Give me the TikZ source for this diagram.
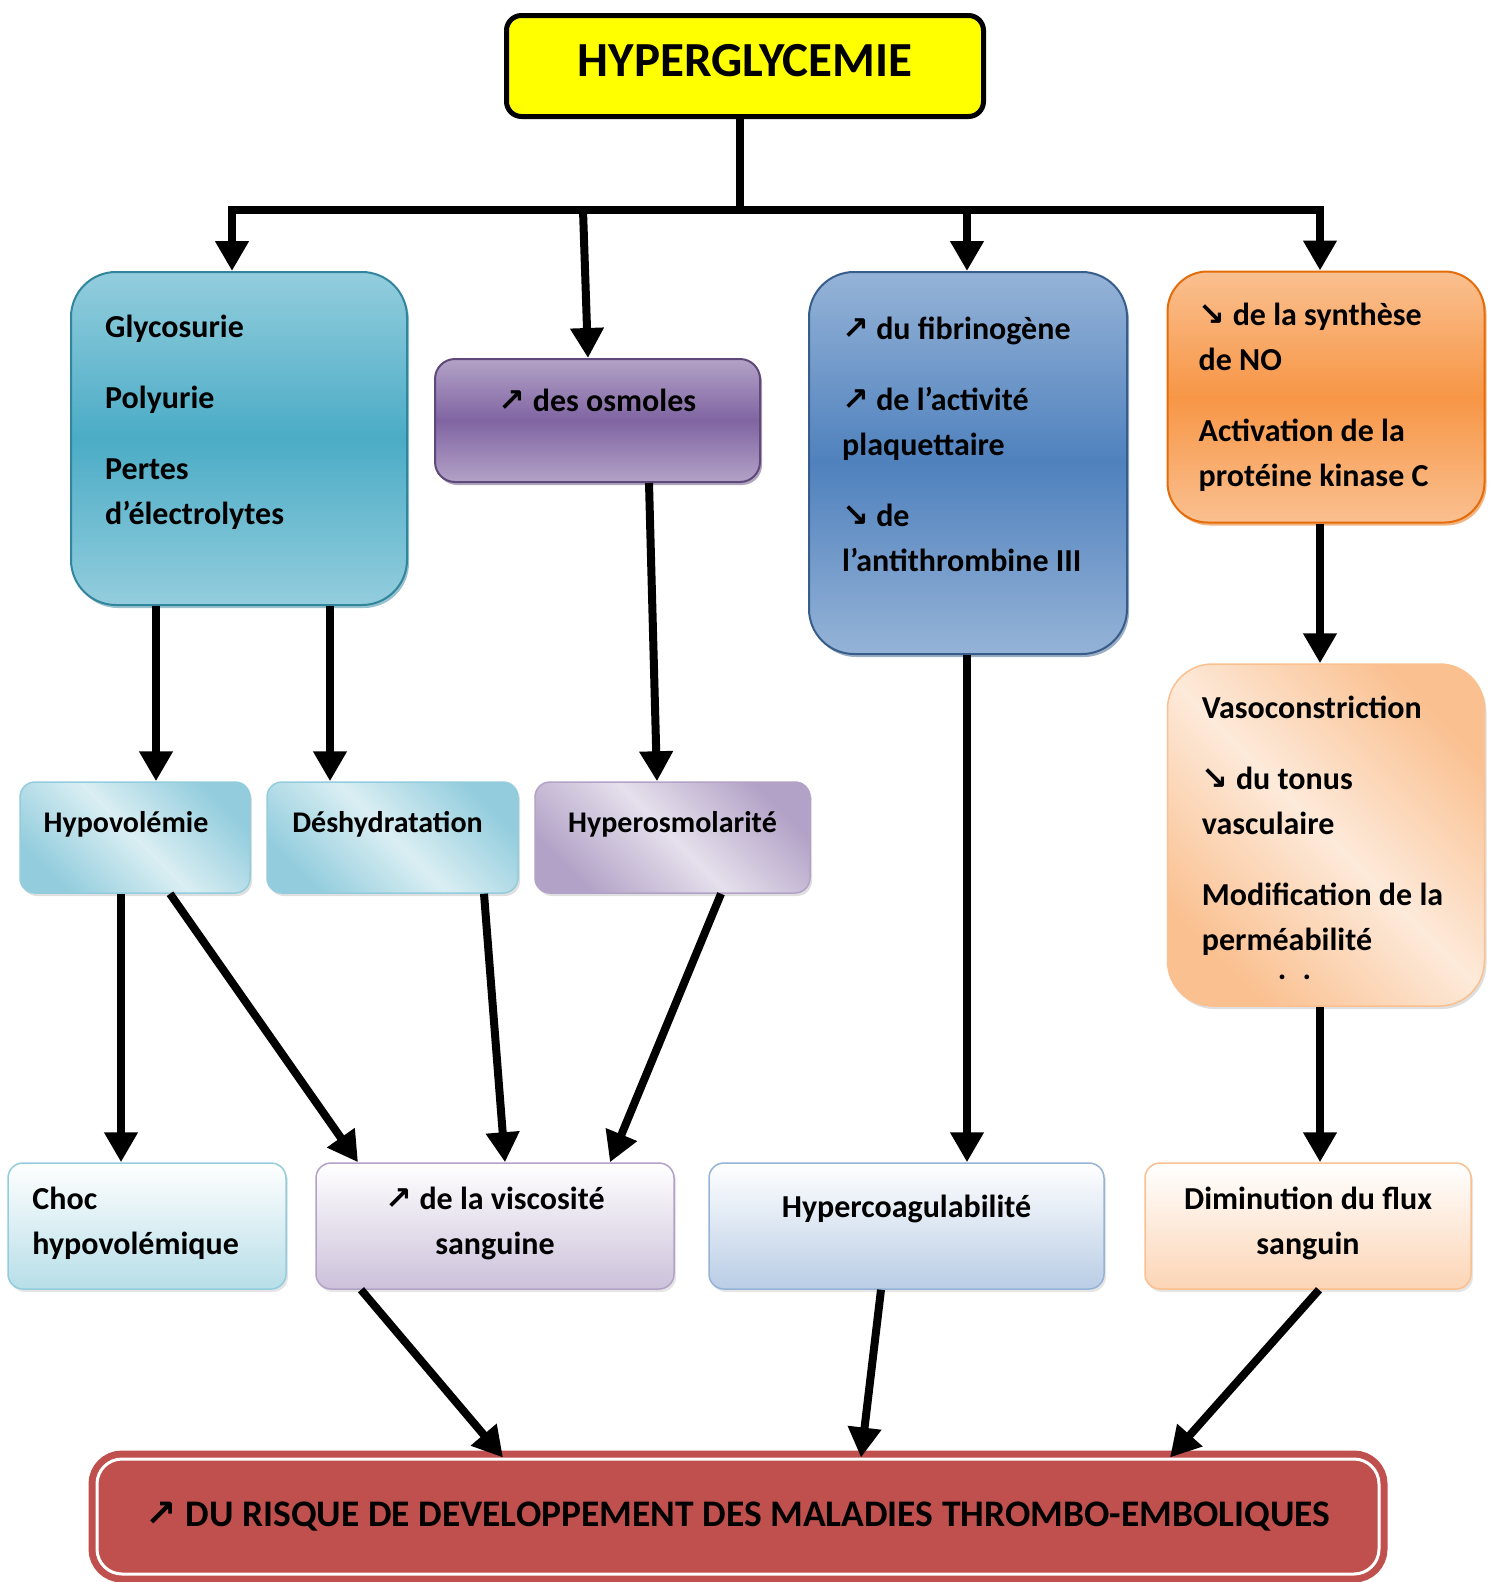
\documentclass[tikz,border=0pt]{standalone}
\usepackage{fontspec}
\setmainfont{Carlito}
\newfontfamily\flechefont{DejaVu Sans}
\usetikzlibrary{arrows.meta,shadows}
\definecolor{jaune}{HTML}{FFFF00}
\definecolor{turq}{HTML}{4BACC6}
\definecolor{turqL}{HTML}{93CDDD}
\definecolor{turqM}{HTML}{B7DEE8}
\definecolor{turqXL}{HTML}{DAEEF3}
\definecolor{turqD}{HTML}{31859C}
\definecolor{mauve}{HTML}{8064A2}
\definecolor{mauveL}{HTML}{B3A2C7}
\definecolor{mauveM}{HTML}{CCC1DA}
\definecolor{mauveXL}{HTML}{E5E0EC}
\definecolor{mauveD}{HTML}{5F497A}
\definecolor{bleu}{HTML}{4F81BD}
\definecolor{bleuL}{HTML}{95B3D7}
\definecolor{bleuM}{HTML}{B9CDE5}
\definecolor{bleuXL}{HTML}{DCE6F2}
\definecolor{bleuD}{HTML}{385D8A}
\definecolor{ora}{HTML}{F79646}
\definecolor{oraL}{HTML}{FAC090}
\definecolor{oraM}{HTML}{FCD5B5}
\definecolor{oraXL}{HTML}{FDEADA}
\definecolor{oraD}{HTML}{E46C0A}
\definecolor{rouge}{HTML}{C0504D}
\newcommand{\hausse}{{\flechefont ↗}}
\newcommand{\baisse}{{\flechefont ↘}}
\tikzset{box/.style = {shape=rectangle, inner sep=0pt, rounded corners=15pt}}
\tikzset{txt/.style = {inner sep=0pt, align=left, font=\bfseries\fontsize{32}{45}\selectfont}}
\tikzset{etiq/.style = {inner sep=0pt, font=\bfseries\fontsize{30}{45}\selectfont}}
\tikzset{cause/.style = {box, rounded corners=45pt, draw=#1D, line width=2pt, top color=#1L, bottom color=#1L, middle color=#1, drop shadow={shadow xshift=2pt, shadow yshift=-3pt, fill=#1D}}}
\tikzset{effet/.style = {box, draw=#1L, line width=1.5pt, top color=#1L, bottom color=#1L, middle color=#1XL, shading angle=-45, drop shadow={shadow xshift=2pt, shadow yshift=-3pt, fill=gray!50}}}
\tikzset{issue/.style = {box, draw=#1L, line width=1.5pt, top color=white, bottom color=#1M, drop shadow={shadow xshift=2pt, shadow yshift=-3pt, fill=gray!40}}}
\tikzset{link/.style = {line width=8pt, line cap=rect}}
\tikzset{edge/.style = {-{Triangle[width=32pt,length=30pt]}, line width=8pt}}

\begin{document}
\begin{tikzpicture}[x=1pt,y=-1pt]
        \useasboundingbox (0,0) rectangle (1498,1582);

        % top
        \node[box, minimum width=477pt, minimum height=101pt, fill=jaune, draw=black, line width=5pt, text depth=12pt, font=\bfseries\fontsize{49}{52}\selectfont] (hyper) at (745,66) {HYPERGLYCEMIE};

        % first level
        \node[cause=turq, minimum width=336pt, minimum height=333pt] (glyco) at (239,438.5) {};
        \node[cause=mauve, rounded corners=20pt, minimum width=325pt, minimum height=123pt] (osm) at (597.5,420.5) {};
        \node[cause=bleu, minimum width=318pt, minimum height=382pt] (fact) at (968,463) {};
        \node[cause=ora, rounded corners=40pt, minimum width=317pt, minimum height=251pt] (nitric) at (1326,397) {};
        \node[effet=ora, rounded corners=45pt, minimum width=317pt, minimum height=342pt] (vaso) at (1326,835) {};

        \node[txt, anchor=north west] (glyco-t) at ([xshift=35pt,yshift=-44pt]glyco.north west) {Glycosurie\\[26pt]Polyurie\\[26pt]Pertes\\d’électrolytes};
        \node[txt, anchor=base] (osm-t) at ([yshift=-53pt]osm.north) {\hausse{} des osmoles};
        \node[txt, anchor=north west] (fact-t) at ([xshift=34pt,yshift=-46pt]fact.north west) {\hausse{} du fibrinogène\\[26pt]\hausse{} de l’activité\\plaquettaire\\[26pt]\baisse{} de\\l’antithrombine III};
        \node[txt, anchor=north west] (nitric-t) at ([xshift=32pt,yshift=-32pt]nitric.north west) {\baisse{} de la synthèse\\de NO\\[26pt]Activation de la\\protéine kinase C};
        \node[txt, anchor=north west] (vaso-t) at ([xshift=35pt,yshift=-33pt]vaso.north west) {Vasoconstriction\\[26pt]\baisse{} du tonus\\vasculaire\\[26pt]Modification de la\\perméabilité\\[-16pt]\hspace*{76pt}.\hspace{16pt}.};

        % second level
        \node[effet=turq, minimum width=230pt, minimum height=111pt] (hypo) at (135,837.5) {};
        \node[effet=turq, minimum width=251pt, minimum height=111pt] (deshy) at (392.5,837.5) {};
        \node[effet=mauve, minimum width=275pt, minimum height=111pt] (hosm) at (672.5,837.5) {};
        \node[etiq, anchor=base] (hypo-t) at ([xshift=-9pt,yshift=-51pt]hypo.north) {Hypovolémie};
        \node[etiq, anchor=base] (deshy-t) at ([xshift=-5pt,yshift=-51pt]deshy.north) {Déshydratation};
        \node[etiq, anchor=base] (hosm-t) at ([yshift=-51pt]hosm.north) {Hyperosmolarité};

        % third level
        \node[issue=turq, minimum width=278pt, minimum height=126pt] (choc) at (147,1226) {};
        \node[issue=mauve, minimum width=358pt, minimum height=126pt] (visc) at (495,1226) {};
        \node[issue=bleu, minimum width=395pt, minimum height=126pt] (hcoag) at (906.5,1226) {};
        \node[issue=ora, minimum width=326pt, minimum height=126pt] (flux) at (1308,1226) {};
        \node[txt, anchor=north west] (choc-t) at ([xshift=25pt,yshift=-25pt]choc.north west) {Choc\\hypovolémique};
        \node[txt, anchor=north, align=center] (visc-t) at ([yshift=-25pt]visc.north) {\hausse{} de la viscosité\\sanguine};
        \node[txt, anchor=base] (hcoag-t) at ([yshift=-55pt]hcoag.north) {Hypercoagulabilité};
        \node[txt, anchor=north, align=center] (flux-t) at ([yshift=-25pt]flux.north) {Diminution du flux\\sanguin};

        % bottom
        \node[box, rounded corners=25pt, minimum width=1282pt, minimum height=115pt, fill=rouge, draw=white, line width=3pt, preaction={draw=rouge, line width=17pt}, font=\bfseries\fontsize{37.5}{40}\selectfont] (risk) at (738,1516.5) {\hausse{} DU RISQUE DE DEVELOPPEMENT DES MALADIES THROMBO-EMBOLIQUES};

        % split under the top box
        \coordinate (split) at ([xshift=-5pt,yshift=-91pt]hyper.south);
        \coordinate[xshift=-7pt] (b1) at (glyco.north |- split);
        \coordinate[xshift=-14.5pt] (b2) at (osm.north |- split);
        \coordinate[xshift=-1pt] (b3) at (fact.north |- split);
        \coordinate[xshift=-6pt] (b4) at (nitric.north |- split);
        \draw[link] ([xshift=-5pt]hyper.south) -- (split);
        \draw[link] (b1) -- (b4);
        \draw[edge] (b1) -- ([xshift=-7pt]glyco.north);
        \draw[edge] (b2) -- ([xshift=-9.5pt]osm.north);
        \draw[edge] (b3) -- ([xshift=-1pt]fact.north);
        \draw[edge] (b4) -- ([xshift=-6pt]nitric.north);

        \draw[edge] ([xshift=-83pt]glyco.south) -- ([xshift=21pt]hypo.north);
        \draw[edge] ([xshift=91pt]glyco.south) -- ([xshift=-62.5pt]deshy.north);
        \draw[edge] ([xshift=51.5pt]osm.south) -- ([xshift=-15.5pt]hosm.north);
        \draw[edge] ([xshift=-1pt]fact.south) -- ([xshift=60.5pt]hcoag.north);
        \draw[edge] ([xshift=-6pt]nitric.south) -- ([xshift=-6pt]vaso.north);
        \draw[edge] ([xshift=-6pt]vaso.south) -- ([xshift=12pt]flux.north);

        \draw[edge] ([xshift=-14pt]hypo.south) -- ([xshift=-26pt]choc.north);
        \draw[edge] ([xshift=35pt]hypo.south) -- ([xshift=-137pt]visc.north);
        \draw[edge] ([xshift=91.5pt]deshy.south) -- ([xshift=10pt]visc.north);
        \draw[edge] ([xshift=48.5pt]hosm.south) -- ([xshift=115pt]visc.north);

        \draw[edge] ([xshift=-134pt]visc.south) -- ([xshift=-235pt]risk.north);
        \draw[edge] ([xshift=-25.5pt]hcoag.south) -- ([xshift=123pt]risk.north);
        \draw[edge] ([xshift=11pt]flux.south) -- ([xshift=432pt]risk.north);
      \end{tikzpicture}
\end{document}
